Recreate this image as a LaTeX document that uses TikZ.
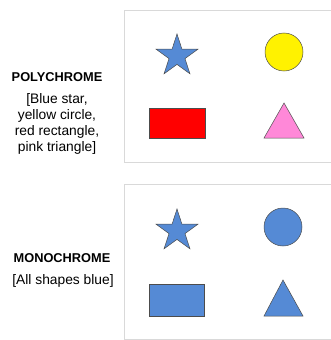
\documentclass[tikz,border=0pt]{standalone}
\usepackage{fontspec}
\setmainfont{Liberation Sans}
\usetikzlibrary{shapes.geometric}
\definecolor{shapeblue}{RGB}{85,138,213}
\definecolor{shapepink}{RGB}{255,136,216}

\begin{document}
\begin{tikzpicture}[x=1pt,y=-1pt,font=\fontsize{13.8}{16}\selectfont,
  panel/.style={draw=black!15,line width=0.8pt},
  title/.style={font=\fontsize{12.8}{16}\selectfont\bfseries},
  shp/.style={draw=black!70,line width=0.5pt},
  starshp/.style={shp,star,star points=5,star point ratio=2.618,inner sep=0pt,minimum size=44pt}]
\useasboundingbox (0,0) rectangle (330,340);
% polychrome panel
\draw[panel] (124,10) rectangle (340,162);
\node[title] (polytitle) at (57,77) {POLYCHROME};
\node[align=center] (polynote) at (57,124) {[Blue star,\\yellow circle,\\red rectangle,\\pink triangle]};
\node[starshp,fill=shapeblue] (polystar) at (177,56) {};
\draw[shp,fill=yellow] (284,52) circle (19);
\draw[shp,fill=red] (149,108) rectangle (205,138);
\draw[shp,fill=shapepink] (264,138) -- (284,103) -- (304,138) -- cycle;
% monochrome panel
\draw[panel] (124,184) rectangle (340,339);
\node[title] (monotitle) at (62,258) {MONOCHROME};
\node (mononote) at (63,281) {[All shapes blue]};
\node[starshp,fill=shapeblue] (monostar) at (177,231) {};
\draw[shp,fill=shapeblue] (283,227) circle (19);
\draw[shp,fill=shapeblue] (149,284) rectangle (204,316);
\draw[shp,fill=shapeblue] (264,316) -- (283,280) -- (303,316) -- cycle;
\end{tikzpicture}
\end{document}
